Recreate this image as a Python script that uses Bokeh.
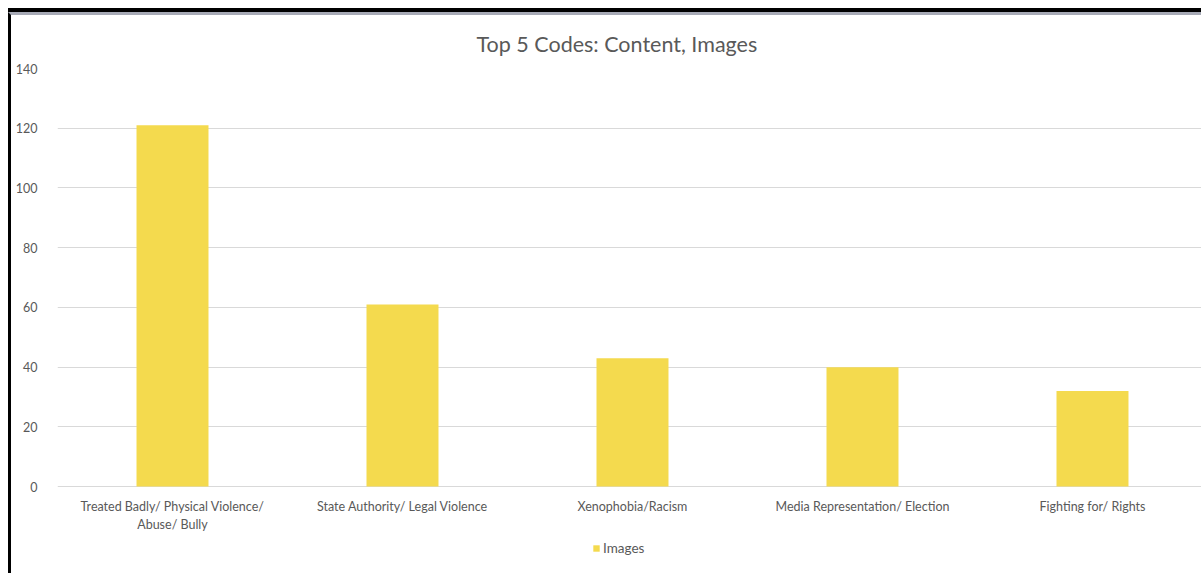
from bokeh.plotting import figure
from bokeh.models import FixedTicker, Legend, LegendItem, Range1d, ColumnDataSource
from bokeh.embed import file_html
from bokeh.resources import INLINE

categories = [
    "Treated Badly/ Physical Violence/\nAbuse/ Bully",
    "State Authority/ Legal Violence",
    "Xenophobia/Racism",
    "Media Representation/ Election",
    "Fighting for/ Rights",
]
images = [121, 61, 43, 40, 32]
y_ticks = [0, 20, 40, 60, 80, 100, 120, 140]

FONT = "Lato"
TXT = "#595959"
BAR = "#F4DA4E"

xs = list(range(len(categories)))
src = ColumnDataSource(dict(x=xs, top=images))

p = figure(width=1193, height=561, output_backend="svg", toolbar_location=None,
           x_range=Range1d(-0.5, 4.487), y_range=Range1d(-30.1, 140),
           min_border_left=46, min_border_right=0, min_border_top=53, min_border_bottom=0)
p.styles = {"border-left": "3px solid #000", "border-top": "3px solid #A7AAB6",
            "box-shadow": "0 -4px 0 0 #000",
            "margin-left": "8px", "margin-top": "12px"}
p.outline_line_color = None
p.background_fill_color = "white"
p.border_fill_color = "white"

r = p.vbar(x="x", top="top", width=0.313, source=src, fill_color=BAR, line_color=None)

p.title.text = "Top 5 Codes: Content, Images"
p.title.align = "left"
p.title.offset = 419
p.title.standoff = 23
p.title.text_font = FONT
p.title.text_font_size = "21.5px"
p.title.text_font_style = "normal"
p.title.text_color = TXT

p.xaxis.fixed_location = 0
p.xaxis.ticker = FixedTicker(ticks=xs)
p.xaxis.major_label_overrides = {i: c for i, c in enumerate(categories)}
p.yaxis.ticker = FixedTicker(ticks=y_ticks)
for ax in (p.xaxis[0], p.yaxis[0]):
    ax.axis_line_color = None
    ax.major_tick_line_color = None
    ax.minor_tick_line_color = None
    ax.major_label_text_font = FONT
    ax.major_label_text_font_size = "12.5px"
    ax.major_label_text_color = TXT
p.xaxis.major_label_standoff = 6
p.yaxis.major_label_standoff = 14
p.xgrid.grid_line_color = None
p.ygrid.ticker = FixedTicker(ticks=y_ticks)
p.ygrid.grid_line_color = "#D9D9D9"
p.ygrid.grid_line_width = 1

legend = Legend(items=[LegendItem(label="Images", renderers=[r])],
                location=(535, 20), orientation="horizontal",
                glyph_width=8, glyph_height=8, label_standoff=3,
                padding=0, margin=0, border_line_color=None,
                background_fill_alpha=0, label_text_font=FONT,
                label_text_font_size="13.5px", label_text_color=TXT,
                label_height=15, label_width=10)
p.add_layout(legend, "center")

open("out.html", "w").write(file_html(p, INLINE))
